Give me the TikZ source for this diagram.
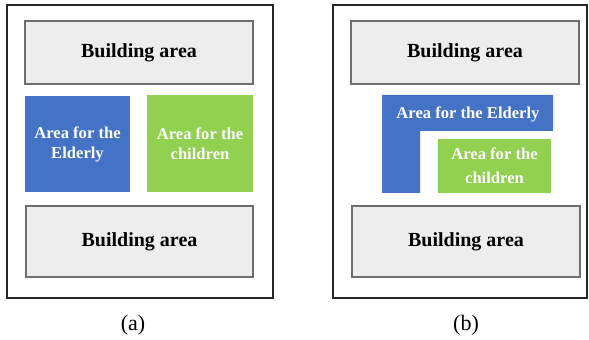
\documentclass[tikz,border=0pt]{standalone}
\usepackage{fontspec}
\setmainfont{Liberation Serif}
\usepackage{tikz}
\usetikzlibrary{positioning}
\definecolor{AreaBlue}{HTML}{4472C4}
\definecolor{AreaGreen}{HTML}{92D050}
\definecolor{BldFill}{HTML}{EDEDED}
\definecolor{BldLine}{HTML}{6E6E6E}
\tikzset{
  bldbox/.style={draw=BldLine,fill=BldFill,line width=0.6pt,inner sep=0pt,font=\bfseries\fontsize{10}{12}\selectfont},
  zonebox/.style={inner sep=0pt,text=white,align=center,font=\bfseries\fontsize{8.3}{10}\selectfont},
  siteframe/.style={draw=black!85,line width=0.7pt},
  caption/.style={font=\fontsize{11}{13}\selectfont}
}

\begin{document}
\begin{tikzpicture}[x=0.5pt,y=0.5pt]
\useasboundingbox (0,0) rectangle (589,340);
% (a) two separate areas
\draw[siteframe] (7,42) rectangle (273,335);
\node[bldbox,minimum width=114pt,minimum height=31.5pt] (topA) at (139,287.5) {Building area};
\node[zonebox,fill=AreaBlue,minimum width=52.5pt,minimum height=48pt] (oldA) at (77.5,196) {Area for the\\Elderly};
\node[zonebox,fill=AreaGreen,minimum width=53pt,minimum height=48.5pt] (kidA) at (200,196.5) {Area for the\\children};
\node[bldbox,minimum width=113.5pt,minimum height=35.5pt] (botA) at (139.5,98.5) {Building area};
\node[caption] (capA) at (133,15) {(a)};
% (b) L-shaped area round the children
\draw[siteframe] (333,42) rectangle (587,335);
\node[bldbox,minimum width=114pt,minimum height=31.5pt] (topB) at (465,287.5) {Building area};
\fill[AreaBlue] (382,147) -- (382,245) -- (553,245) -- (553,209) -- (420,209) -- (420,147) -- cycle;
\node[zonebox] (oldB) at (468,226) {Area for the Elderly};
\node[zonebox,fill=AreaGreen,minimum width=56.5pt,minimum height=27pt,font=\bfseries\fontsize{8.3}{12}\selectfont] (kidB) at (494.5,174) {Area for the\\children};
\node[bldbox,minimum width=114pt,minimum height=35.5pt] (botB) at (466,98.5) {Building area};
\node[caption] (capB) at (466,15) {(b)};
\end{tikzpicture}
\end{document}
